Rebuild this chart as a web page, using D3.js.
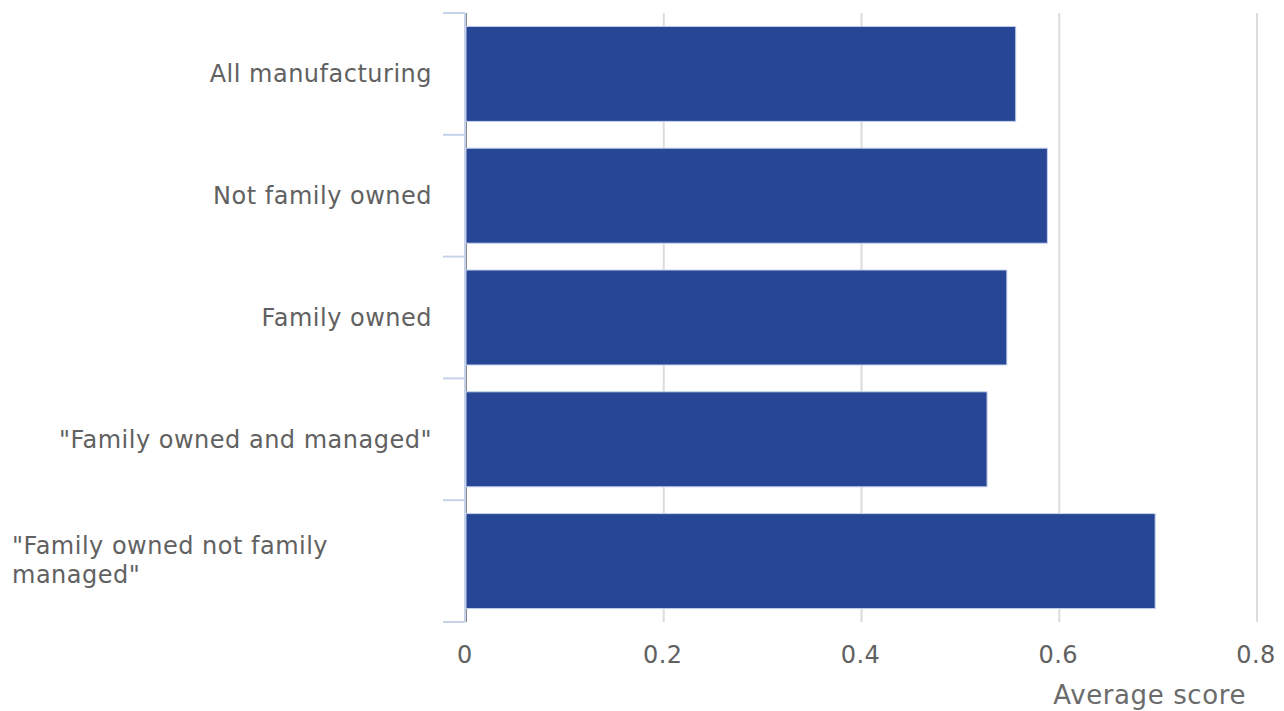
<!DOCTYPE html>
<html>
<head>
<meta charset="utf-8">
<script src="https://cdn.jsdelivr.net/npm/d3@7"></script>
<style>
  body { margin: 0; background: #fff; }
  text { font-family: "DejaVu Sans", sans-serif; }
</style>
</head>
<body>
<div id="chart"></div>
<script>
const categories = [
    "All manufacturing",
    "Not family owned",
    "Family owned",
    "\"Family owned and managed\"",
    "\"Family owned not family managed\""
];
const values = [0.556, 0.588, 0.547, 0.527, 0.697];
const xTicks = [0, 0.2, 0.4, 0.6, 0.8];
const xTitle = "Average score";

const width = 1284, height = 711;
const margin = { top: 13, right: 28, bottom: 89, left: 465 };
const innerWidth = width - margin.left - margin.right;
const innerHeight = height - margin.top - margin.bottom;

const svg = d3.select("#chart").append("svg")
    .attr("width", width)
    .attr("height", height);

const g = svg.append("g")
    .attr("transform", `translate(${margin.left},${margin.top})`);

const x = d3.scaleLinear().domain([0, 0.8]).range([0, innerWidth]);
const y = d3.scaleBand().domain(categories).range([0, innerHeight]).paddingInner(0.22).paddingOuter(0.11);

// grid verticale
g.append("g")
    .selectAll("line")
    .data(xTicks)
    .join("line")
    .attr("x1", d => x(d) + 1)
    .attr("x2", d => x(d) + 1)
    .attr("y1", 0)
    .attr("y2", innerHeight)
    .attr("stroke", d => d === 0 ? "#888" : "#dcdcdc")
    .attr("stroke-width", 2);

// bars
g.selectAll("rect.bar")
    .data(categories)
    .join("rect")
    .attr("class", "bar")
    .attr("x", 1)
    .attr("y", d => y(d))
    .attr("width", (d, i) => x(values[i]))
    .attr("height", y.bandwidth())
    .attr("fill", "#274796")
    .attr("stroke", "#c6d2ea")
    .attr("stroke-width", 1);

// y axis: line + ticks di batas band
const bounds = d3.range(categories.length + 1).map(i => i * innerHeight / categories.length);
g.append("line")
    .attr("x1", 0).attr("x2", 0)
    .attr("y1", 0).attr("y2", innerHeight)
    .attr("stroke", "#c6d2ea")
    .attr("stroke-width", 2);
g.append("g")
    .selectAll("line")
    .data(bounds)
    .join("line")
    .attr("x1", -22).attr("x2", 0)
    .attr("y1", d => d).attr("y2", d => d)
    .attr("stroke", "#c6d2ea")
    .attr("stroke-width", 2);

// label kategori
const labelStyle = t => t
    .attr("fill", "#616161")
    .attr("font-size", "24px")
    .attr("letter-spacing", "0.5px");

categories.forEach((c, i) => {
    const cy = y(c) + y.bandwidth() / 2;
    if (i === 4) {
        const t = g.append("text")
            .attr("x", -453)
            .attr("y", cy)
            .call(labelStyle);
        t.append("tspan").attr("x", -453).attr("dy", "-0.3em").text("\"Family owned not family");
        t.append("tspan").attr("x", -453).attr("dy", "1.2em").text("managed\"");
    } else {
        g.append("text")
            .attr("x", -33)
            .attr("y", cy)
            .attr("dy", "0.35em")
            .attr("text-anchor", "end")
            .call(labelStyle)
            .text(c);
    }
});

// x tick labels
g.append("g")
    .selectAll("text")
    .data(xTicks)
    .join("text")
    .attr("x", d => x(d))
    .attr("y", innerHeight + 41)
    .attr("text-anchor", "middle")
    .call(labelStyle)
    .text(d => d === 0 ? "0" : d3.format(".1f")(d));

// judul sumbu x
g.append("text")
    .attr("x", innerWidth - 10)
    .attr("y", innerHeight + 82)
    .attr("text-anchor", "end")
    .attr("fill", "#6b6b6b")
    .attr("font-size", "26px")
    .attr("letter-spacing", "0.6px")
    .text(xTitle);
</script>
</body>
</html>
